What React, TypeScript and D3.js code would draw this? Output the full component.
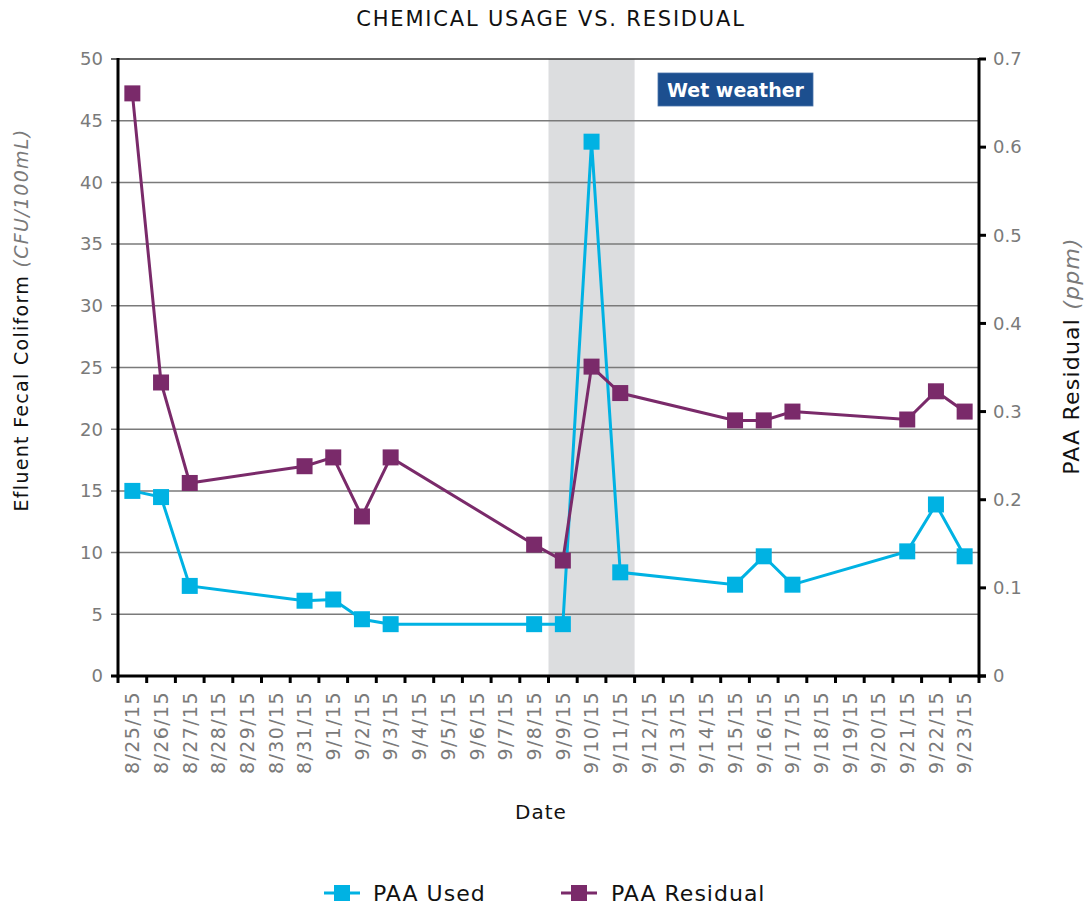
import React from "react";
import * as d3 from "d3";

const dates = [
  "8/25/15","8/26/15","8/27/15","8/28/15","8/29/15","8/30/15","8/31/15",
  "9/1/15","9/2/15","9/3/15","9/4/15","9/5/15","9/6/15","9/7/15","9/8/15",
  "9/9/15","9/10/15","9/11/15","9/12/15","9/13/15","9/14/15","9/15/15",
  "9/16/15","9/17/15","9/18/15","9/19/15","9/20/15","9/21/15","9/22/15","9/23/15",
];

const paaUsedDates = ["8/25/15","8/26/15","8/27/15","8/31/15","9/1/15","9/2/15","9/3/15","9/8/15","9/9/15","9/10/15","9/11/15","9/15/15","9/16/15","9/17/15","9/21/15","9/22/15","9/23/15"];
const paaUsedValues = [15.0, 14.5, 7.3, 6.1, 6.2, 4.6, 4.2, 4.2, 4.2, 43.3, 8.4, 7.4, 9.7, 7.4, 10.1, 13.9, 9.7];

const paaResidualDates = ["8/25/15","8/26/15","8/27/15","8/31/15","9/1/15","9/2/15","9/3/15","9/8/15","9/9/15","9/10/15","9/11/15","9/15/15","9/16/15","9/17/15","9/21/15","9/22/15","9/23/15"];
const paaResidualValues = [0.661, 0.333, 0.219, 0.238, 0.248, 0.181, 0.248, 0.149, 0.131, 0.351, 0.321, 0.29, 0.29, 0.30, 0.291, 0.323, 0.30];

const leftTicks = [0, 5, 10, 15, 20, 25, 30, 35, 40, 45, 50];
const rightTicks = [0, 0.1, 0.2, 0.3, 0.4, 0.5, 0.6, 0.7];
const wetWeatherDates = ["9/9/15", "9/11/15"];

const CYAN = "#00b2e3";
const PURPLE = "#7a2a6a";
const GRAY_TEXT = "#7a7a7a";
const FONT = "'DejaVu Sans', sans-serif";

export default function App() {
  const left = 118, right = 979, top = 59, bottom = 676;
  const x = d3.scaleBand<string>().domain(dates).range([left, right]).padding(0);
  const cx = (d: string) => (x(d) as number) + x.bandwidth() / 2;
  const yL = d3.scaleLinear().domain([0, 50]).range([bottom, top]);
  const yR = d3.scaleLinear().domain([0, 0.7]).range([bottom, top]);

  const usedPts = paaUsedDates.map((d, i) => [cx(d), yL(paaUsedValues[i])] as [number, number]);
  const resPts = paaResidualDates.map((d, i) => [cx(d), yR(paaResidualValues[i])] as [number, number]);
  const line = d3.line();
  const ms = 16;

  const wx0 = x(wetWeatherDates[0]) as number;
  const wx1 = (x(wetWeatherDates[1]) as number) + x.bandwidth();

  const boundaries = d3.range(dates.length + 1).map((i) => left + i * x.bandwidth());

  return (
    <svg width={1086} height={909} style={{ position: "absolute", left: 0, top: 0, background: "#fff" }}>
      <rect x={0} y={0} width={1086} height={909} fill="#fff" />
      <text x={551} y={26} textAnchor="middle" fontFamily={FONT} fontSize={21} letterSpacing={1.8} fill="#111">
        CHEMICAL USAGE VS. RESIDUAL
      </text>

      {/* wet weather shading */}
      <rect x={wx0} y={top} width={wx1 - wx0} height={bottom - top} fill="#dcdddf" />

      {/* gridlines */}
      {leftTicks.map((t) => (
        <line key={"g" + t} x1={left - 7} x2={right} y1={yL(t)} y2={yL(t)}
          stroke={t === 50 ? "#333" : "#7a7a7a"} strokeWidth={1.5} />
      ))}
      {leftTicks.map((t) => (
        <text key={"lt" + t} x={103} y={yL(t)} dy="0.35em" textAnchor="end" fontFamily={FONT} fontSize={18} fill={GRAY_TEXT}>
          {t}
        </text>
      ))}
      {rightTicks.map((t) => (
        <g key={"rt" + t}>
          <line x1={right} x2={right + 7} y1={yR(t)} y2={yR(t)} stroke="#000" strokeWidth={3} />
          <text x={993} y={yR(t)} dy="0.35em" textAnchor="start" fontFamily={FONT} fontSize={18} fill={GRAY_TEXT}>
            {t}
          </text>
        </g>
      ))}

      {/* wet weather label */}
      <rect x={658} y={73} width={155} height={33} fill="#1c4f8f" stroke="#4a74aa" strokeWidth={0.8} />
      <text x={735.5} y={96.5} textAnchor="middle" fontFamily={FONT} fontWeight={700} fontSize={19} fill="#fff">
        Wet weather
      </text>

      {/* axes */}
      <line x1={left} x2={left} y1={top - 1} y2={bottom + 1.5} stroke="#000" strokeWidth={3} />
      <line x1={right} x2={right} y1={top - 1} y2={bottom + 1.5} stroke="#000" strokeWidth={3} />
      <line x1={left - 7} x2={right + 7} y1={bottom} y2={bottom} stroke="#000" strokeWidth={3} />
      {boundaries.map((bx, i) => (
        <line key={"xt" + i} x1={bx} x2={bx} y1={bottom} y2={bottom + 7} stroke="#000" strokeWidth={3} />
      ))}
      {dates.map((d) => (
        <text key={"xl" + d} transform={`translate(${cx(d)},691) rotate(-90)`} dy="0.36em" textAnchor="end"
          fontFamily={FONT} fontSize={19} letterSpacing={1.4} fill={GRAY_TEXT}>
          {d}
        </text>
      ))}

      {/* series */}
      <path d={line(usedPts) || ""} fill="none" stroke={CYAN} strokeWidth={3} />
      {usedPts.map(([px, py], i) => (
        <rect key={"u" + i} x={px - ms / 2} y={py - ms / 2} width={ms} height={ms} fill={CYAN} />
      ))}
      <path d={line(resPts) || ""} fill="none" stroke={PURPLE} strokeWidth={3} />
      {resPts.map(([px, py], i) => (
        <rect key={"r" + i} x={px - ms / 2} y={py - ms / 2} width={ms} height={ms} fill={PURPLE} />
      ))}

      {/* axis titles */}
      <text transform="translate(28,320) rotate(-90)" textAnchor="middle" fontFamily={FONT} fontSize={19} letterSpacing={1.3} fill="#111">
        Efluent Fecal Coliform <tspan fontStyle="italic" fill={GRAY_TEXT}>(CFU/100mL)</tspan>
      </text>
      <text transform="translate(1079,356) rotate(-90)" textAnchor="middle" fontFamily={FONT} fontSize={22} letterSpacing={1.2} fill="#111">
        PAA Residual <tspan fontStyle="italic" fill={GRAY_TEXT}>(ppm)</tspan>
      </text>
      <text x={541} y={819} textAnchor="middle" fontFamily={FONT} fontSize={20} letterSpacing={1} fill="#111">Date</text>

      {/* legend */}
      <line x1={324} x2={360} y1={893} y2={893} stroke={CYAN} strokeWidth={3} />
      <rect x={334} y={885} width={16} height={16} fill={CYAN} />
      <text x={373} y={901} fontFamily={FONT} fontSize={22} letterSpacing={1} fill="#111">PAA Used</text>
      <line x1={561} x2={597} y1={893} y2={893} stroke={PURPLE} strokeWidth={3} />
      <rect x={571} y={885} width={16} height={16} fill={PURPLE} />
      <text x={611} y={901} fontFamily={FONT} fontSize={22} letterSpacing={1} fill="#111">PAA Residual</text>
    </svg>
  );
}
